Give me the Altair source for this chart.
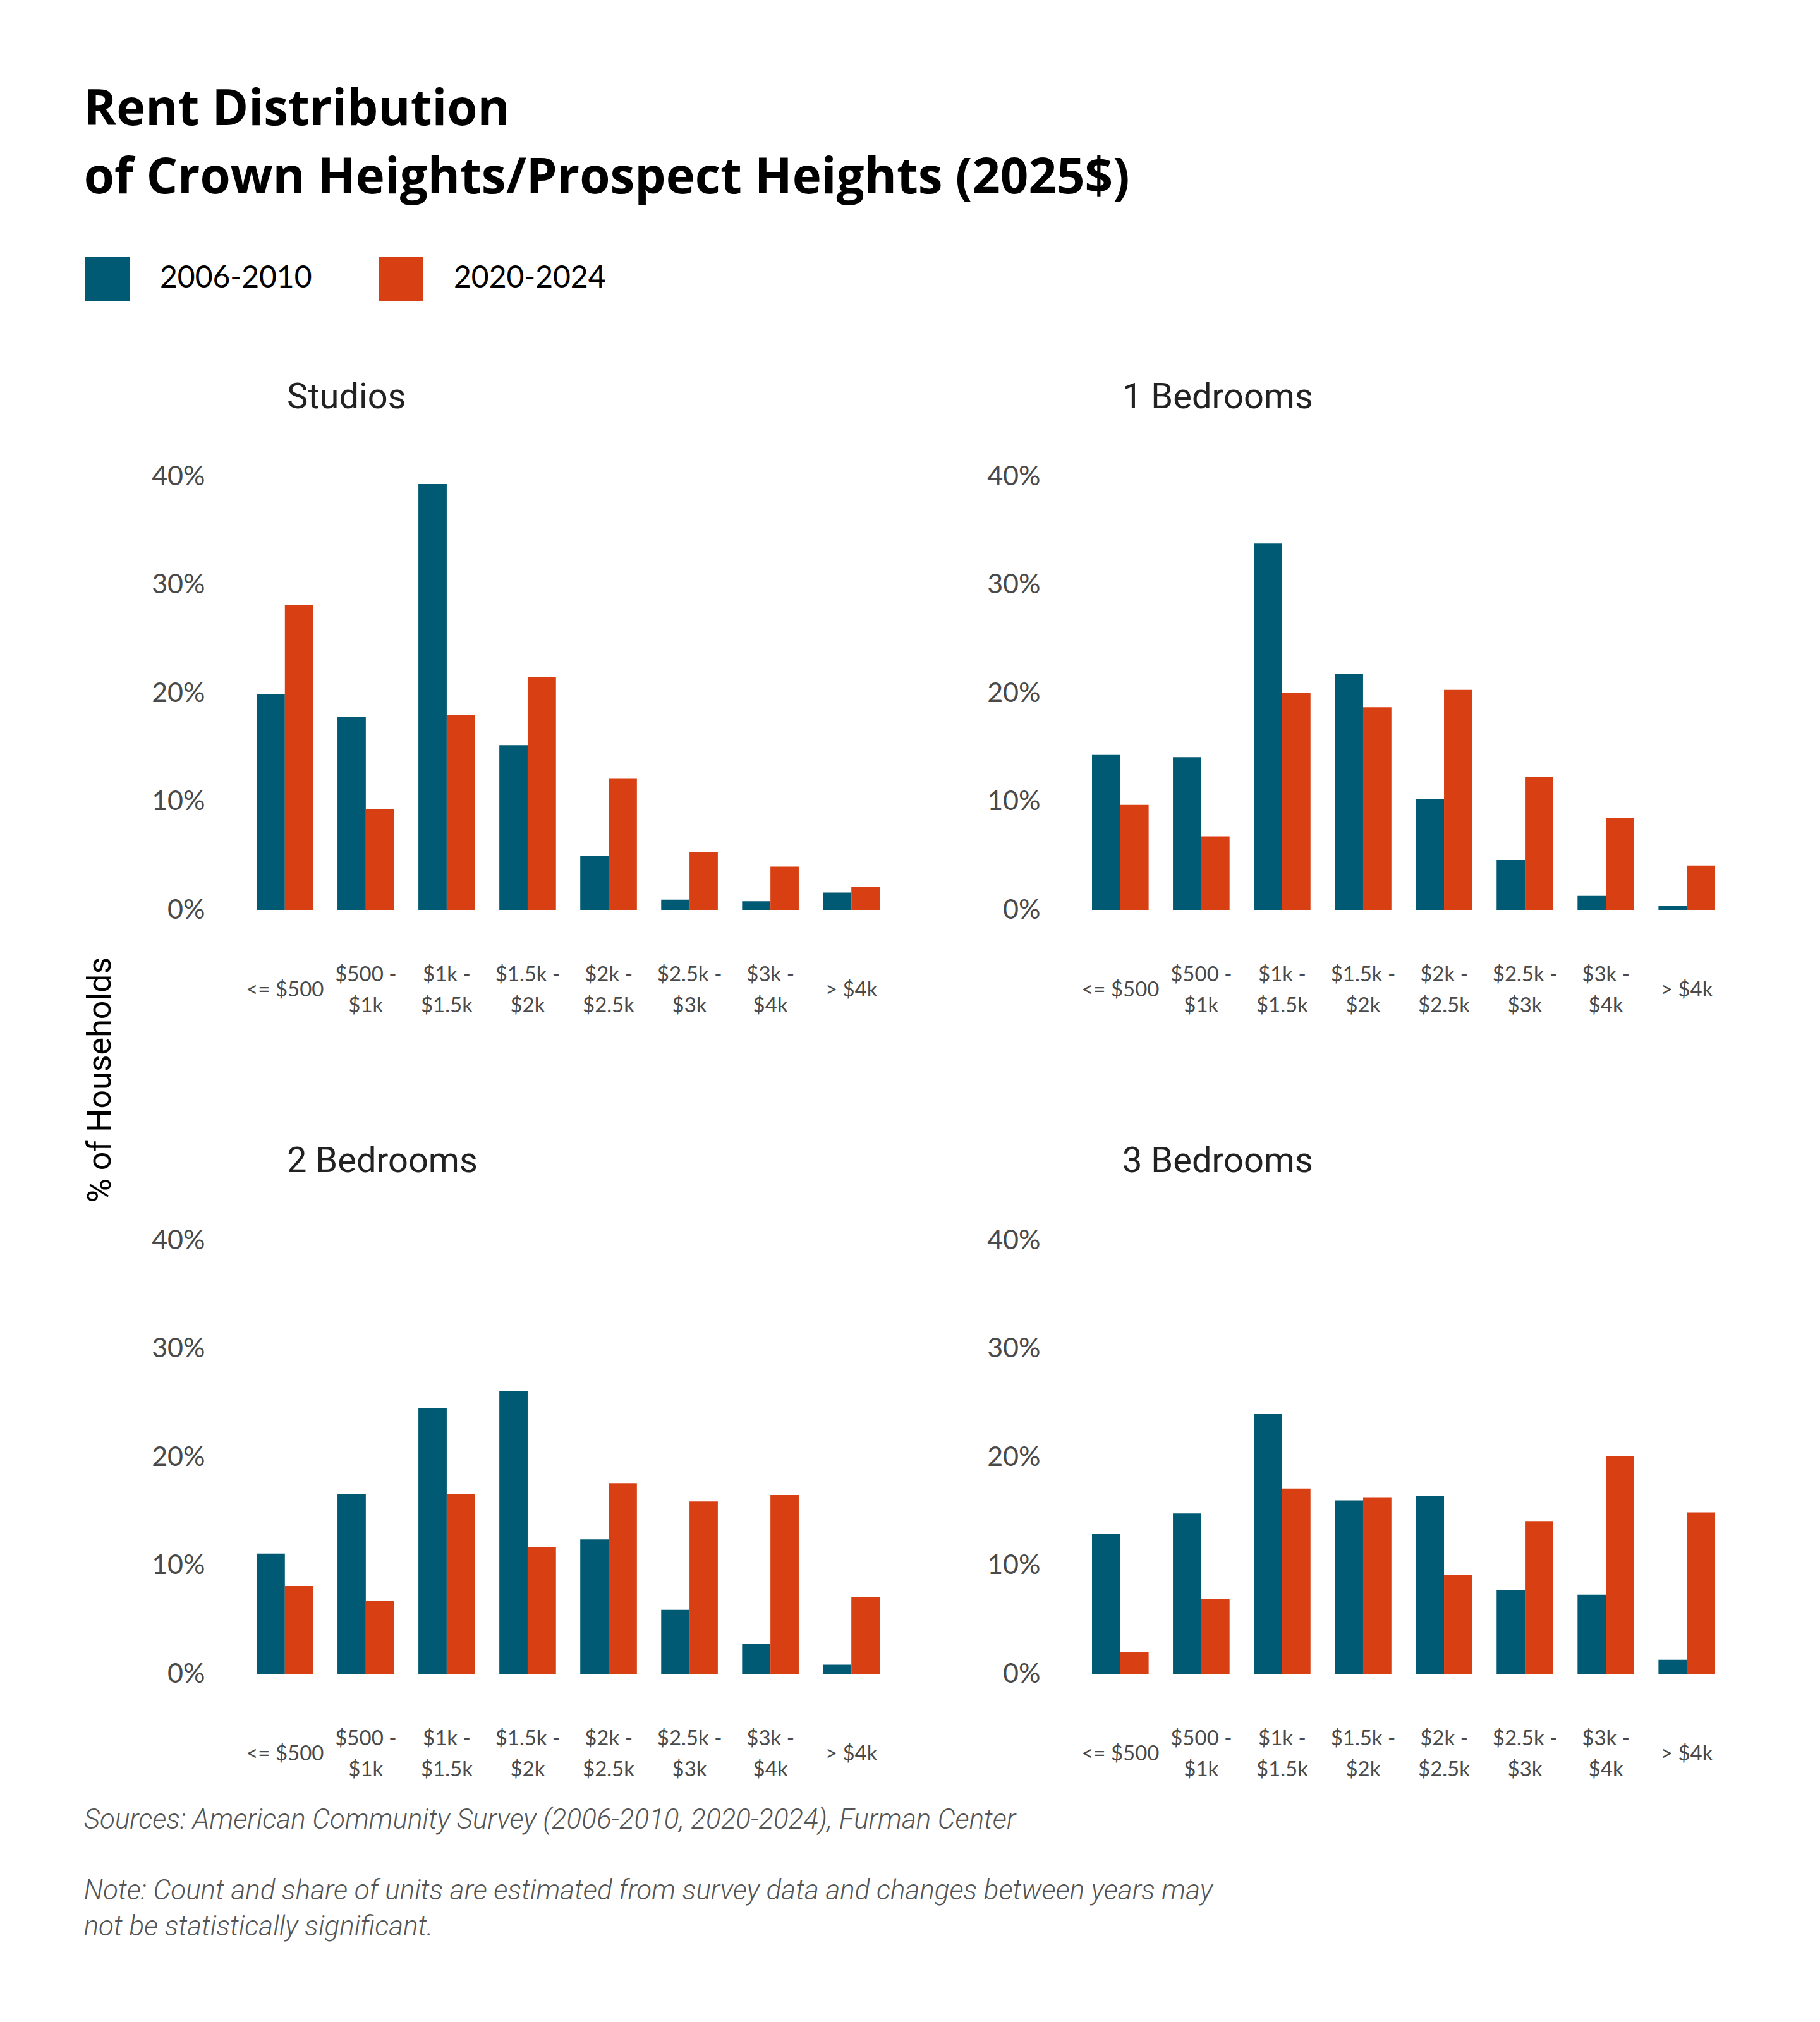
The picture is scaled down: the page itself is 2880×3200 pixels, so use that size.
import altair as alt
import pandas as pd

bins = ["<= $500", "$500 - $1k", "$1k - $1.5k", "$1.5k - $2k",
        "$2k - $2.5k", "$2.5k - $3k", "$3k - $4k", "> $4k"]
periods = ["2006-2010", "2020-2024"]
types = ["Studios", "1 Bedrooms", "2 Bedrooms", "3 Bedrooms"]
colors = ["#005a73", "#d84014"]

studios_2006 = [19.9, 17.8, 39.3, 15.2, 5.0, 0.95, 0.8, 1.6]
studios_2020 = [28.1, 9.3, 18.0, 21.5, 12.1, 5.3, 4.0, 2.1]
br1_2006 = [14.3, 14.1, 33.8, 21.8, 10.2, 4.6, 1.3, 0.35]
br1_2020 = [9.7, 6.8, 20.0, 18.7, 20.3, 12.3, 8.5, 4.1]
br2_2006 = [11.1, 16.6, 24.5, 26.1, 12.4, 5.9, 2.8, 0.85]
br2_2020 = [8.1, 6.7, 16.6, 11.7, 17.6, 15.9, 16.5, 7.1]
br3_2006 = [12.9, 14.8, 24.0, 16.0, 16.4, 7.7, 7.3, 1.3]
br3_2020 = [2.0, 6.9, 17.1, 16.3, 9.1, 14.1, 20.1, 14.9]

title_lines = ["Rent Distribution", "of Crown Heights/Prospect Heights (2025$)"]
y_title = "% of Households"
source_text = "Sources: American Community Survey (2006-2010, 2020-2024), Furman Center"
note_lines = [
    "Note: Count and share of units are estimated from survey data and changes between years may",
    "not be statistically significant.",
]

series = {
    "Studios": (studios_2006, studios_2020),
    "1 Bedrooms": (br1_2006, br1_2020),
    "2 Bedrooms": (br2_2006, br2_2020),
    "3 Bedrooms": (br3_2006, br3_2020),
}
rows = []
for t in types:
    for p, vals in zip(periods, series[t]):
        for b, v in zip(bins, vals):
            rows.append({"type": t, "bin": b, "period": p, "value": v})
df = pd.DataFrame(rows)

LABEL_FONT = "Lato"
LABEL_COLOR = "#4a4a4a"


def panel(t):
    return (
        alt.Chart(df)
        .transform_filter(alt.datum.type == t)
        .mark_bar()
        .encode(
            x=alt.X(
                "bin:N", sort=bins,
                scale=alt.Scale(paddingInner=0.3, paddingOuter=0.445),
                axis=alt.Axis(
                    title=None, labelAngle=0, ticks=False, tickSize=0, domain=False,
                    labelPadding={"condition": {"test": "indexof(datum.label, '- ') >= 0", "value": 102}, "value": 126},
                    labelBaseline="middle", labelLineHeight=49,
                    labelExpr="split(replace(datum.label, '- ', '-|'), '|')",
                    labelFont=LABEL_FONT, labelFontSize=33, labelColor=LABEL_COLOR,
                    labelOverlap=False,
                ),
            ),
            xOffset=alt.XOffset("period:N", sort=periods,
                                scale=alt.Scale(paddingInner=0, paddingOuter=0)),
            y=alt.Y(
                "value:Q", scale=alt.Scale(domain=[0, 40]),
                axis=alt.Axis(
                    title=None, values=[0, 10, 20, 30, 40], grid=False, domain=False,
                    ticks=False, tickSize=0, labelPadding=25,
                    labelExpr="datum.value + '%'",
                    labelFont=LABEL_FONT, labelFontSize=43, labelColor=LABEL_COLOR,
                ),
            ),
            color=alt.Color(
                "period:N",
                scale=alt.Scale(domain=periods, range=colors),
                legend=alt.Legend(
                    title=None, orient="none", direction="horizontal",
                    legendX=-214, legendY=-348, symbolType="square", symbolSize=4900,
                    symbolStrokeWidth=0, labelFont=LABEL_FONT, labelFontSize=48,
                    labelColor="black", labelOffset=48, columnPadding=106, padding=0,
                    labelLimit=0,
                ),
            ),
        )
        .properties(
            width=1100, height=686,
            title=alt.TitleParams(
                t, anchor="start", frame="group", dx=105, offset=75,
                font="Roboto", fontSize=56, fontWeight="normal", color="#222222",
            ),
        )
    )


grid = alt.ConcatChart(
    concat=[panel(t) for t in types],
    columns=2,
    spacing={"row": 523, "column": 222},
    bounds="flush",
).properties(
    title=alt.TitleParams(
        y_title, orient="left", anchor="middle", offset=54,
        font="Roboto", fontSize=52, fontWeight="normal", color="black",
    )
)

mid = alt.vconcat(grid).properties(
    title=alt.TitleParams(
        source_text, orient="bottom", anchor="start", offset=42,
        font="Roboto", fontSize=44, fontStyle="italic", fontWeight=300,
        lineHeight=57, color="#555555",
        subtitle=note_lines, subtitleFont="Roboto", subtitleFontSize=44,
        subtitleFontStyle="italic", subtitleFontWeight=300,
        subtitleLineHeight=57, subtitleColor="#555555", subtitlePadding=68,
    )
)

chart = (
    alt.vconcat(mid)
    .properties(
        title=alt.TitleParams(
            title_lines, anchor="start", offset=84,
            font="Open Sans", fontSize=78, fontWeight="bold", lineHeight=108,
            color="black",
        ),
        padding={"left": 124, "top": 128, "right": 20, "bottom": 20},
    )
    .configure_view(stroke=None)
)

chart.save("out.html", embed_options={"renderer": "svg", "actions": False})
